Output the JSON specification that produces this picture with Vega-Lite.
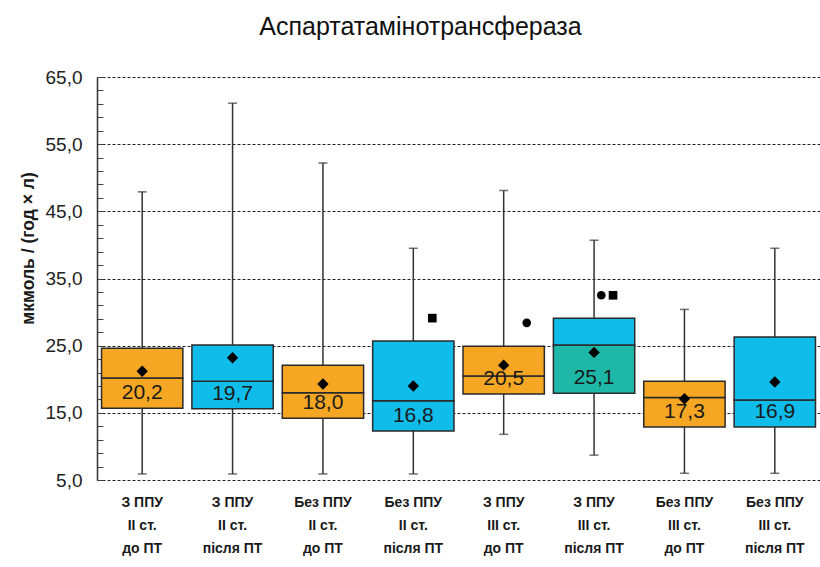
{
  "$schema": "https://vega.github.io/schema/vega-lite/v6.json",
  "autosize": "none",
  "width": 723,
  "height": 403,
  "padding": {"left": 97, "top": 77, "right": 0, "bottom": 87},
  "background": "white",
  "config": {
    "view": {"stroke": null},
    "font": "Liberation Sans",
    "locale": {"number": {"decimal": ",", "thousands": " ", "grouping": [3], "currency": ["", ""]}}
  },
  "title": {
    "text": "Аспартатамінотрансфераза",
    "fontSize": 25,
    "fontWeight": "normal",
    "color": "#111",
    "anchor": "middle",
    "dx": -38,
    "offset": 28
  },
  "datasets": {
    "boxes": [
      {"group": "З ППУ|II ст.|до ПТ", "min": 5.9, "q1": 15.7, "median": 20.2, "q3": 24.6, "max": 47.9, "mean": 21.2, "upper": "до ПТ", "lower": "до ПТ"},
      {"group": "З ППУ|II ст.|після ПТ", "min": 5.9, "q1": 15.6, "median": 19.7, "q3": 25.1, "max": 61.1, "mean": 23.2, "upper": "після ПТ", "lower": "після ПТ"},
      {"group": "Без ППУ|II ст.|до ПТ", "min": 5.9, "q1": 14.2, "median": 18.0, "q3": 22.1, "max": 52.2, "mean": 19.3, "upper": "до ПТ", "lower": "до ПТ"},
      {"group": "Без ППУ|II ст.|після ПТ", "min": 5.9, "q1": 12.3, "median": 16.8, "q3": 25.7, "max": 39.5, "mean": 19.0, "upper": "після ПТ", "lower": "після ПТ"},
      {"group": "З ППУ|III ст.|до ПТ", "min": 11.8, "q1": 17.8, "median": 20.5, "q3": 24.9, "max": 48.1, "mean": 22.1, "upper": "до ПТ", "lower": "до ПТ"},
      {"group": "З ППУ|III ст.|після ПТ", "min": 8.7, "q1": 17.9, "median": 25.1, "q3": 29.1, "max": 40.7, "mean": 24.0, "upper": "після ПТ", "lower": "після ПТ (нижня)"},
      {"group": "Без ППУ|III ст.|до ПТ", "min": 6.0, "q1": 12.9, "median": 17.3, "q3": 19.7, "max": 30.4, "mean": 17.1, "upper": "до ПТ", "lower": "до ПТ"},
      {"group": "Без ППУ|III ст.|після ПТ", "min": 6.0, "q1": 12.9, "median": 16.9, "q3": 26.3, "max": 39.5, "mean": 19.6, "upper": "після ПТ", "lower": "після ПТ"}
    ],
    "outliers": [
      {"group": "Без ППУ|II ст.|після ПТ", "value": 29.1, "shape": "square"},
      {"group": "З ППУ|III ст.|до ПТ", "value": 28.4, "shape": "circle"},
      {"group": "З ППУ|III ст.|після ПТ", "value": 32.5, "shape": "circle"},
      {"group": "З ППУ|III ст.|після ПТ", "value": 32.5, "shape": "square"}
    ]
  },
  "data": {"name": "boxes"},
  "encoding": {
    "x": {
      "field": "group",
      "type": "nominal",
      "sort": null,
      "scale": {"paddingInner": 0, "paddingOuter": 0},
      "axis": {
        "title": null,
        "labelAngle": 0,
        "labelExpr": "split(datum.value, '|')",
        "labelFontWeight": "bold",
        "labelFontSize": 14,
        "labelLineHeight": 23,
        "labelColor": "#1a1a1a",
        "labelPadding": 15,
        "labelBaseline": "top",
        "ticks": false,
        "domain": false,
        "grid": false
      }
    }
  },
  "resolve": {"axis": {"y": "independent"}},
  "layer": [
    {
      "mark": {"type": "rule", "color": "#333", "strokeWidth": 1.5},
      "encoding": {
        "y": {
          "field": "min",
          "type": "quantitative",
          "scale": {"domain": [5, 65], "nice": false, "zero": false},
          "axis": {
            "orient": "left",
            "title": "мкмоль / (год × л)",
            "titleFontSize": 17.5,
            "titleFontWeight": "bold",
            "titleColor": "#1a1a1a",
            "titleX": -69,
            "titleY": 171,
            "titleBaseline": "middle",
            "titleAngle": -90,
            "values": [5, 7, 9, 11, 13, 15, 17, 19, 21, 23, 25, 27, 29, 31, 33, 35, 37, 39, 41, 43, 45, 47, 49, 51, 53, 55, 57, 59, 61, 63, 65],
            "format": ".1f",
            "labelExpr": "indexof(['5,0','15,0','25,0','35,0','45,0','55,0','65,0'], datum.label) >= 0 ? datum.label : ''",
            "labelFontSize": 19,
            "labelColor": "#222",
            "labelPadding": 21,
            "labelOverlap": false,
            "ticks": true,
            "tickSize": -6,
            "tickColor": "#444",
            "tickWidth": 1,
            "domainColor": "#333",
            "domainWidth": 1.5,
            "grid": false
          }
        },
        "y2": {"field": "max"}
      }
    },
    {
      "mark": {"type": "tick", "color": "#333", "size": 9, "thickness": 1.5},
      "encoding": {
        "y": {
          "field": "min",
          "type": "quantitative",
          "axis": {
            "orient": "right",
            "title": null,
            "values": [5, 15, 25, 35, 45, 55, 65],
            "labels": false,
            "domain": false,
            "ticks": false,
            "grid": true,
            "gridColor": "#222",
            "gridDash": [3, 2],
            "gridWidth": 1
          }
        }
      }
    },
    {
      "mark": {"type": "tick", "color": "#333", "size": 9, "thickness": 1.5},
      "encoding": {"y": {"field": "max", "type": "quantitative", "axis": null}}
    },
    {
      "mark": {"type": "bar", "width": {"band": 0.9}, "stroke": "#2a2a2a", "strokeWidth": 1.5},
      "encoding": {
        "y": {"field": "q1", "type": "quantitative", "axis": null},
        "y2": {"field": "median"},
        "fill": {
          "field": "lower",
          "type": "nominal",
          "scale": {"domain": ["до ПТ", "після ПТ", "після ПТ (нижня)"], "range": ["#F5A623", "#10BCEA", "#1FB8A8"]},
          "legend": null
        }
      }
    },
    {
      "mark": {"type": "bar", "width": {"band": 0.9}, "stroke": "#2a2a2a", "strokeWidth": 1.5},
      "encoding": {
        "y": {"field": "median", "type": "quantitative", "axis": null},
        "y2": {"field": "q3"},
        "fill": {"field": "upper", "type": "nominal", "legend": null}
      }
    },
    {
      "mark": {"type": "text", "fontSize": 21, "color": "#1a1a1a", "baseline": "middle", "dy": -15},
      "encoding": {
        "y": {"field": "q1", "type": "quantitative", "axis": null},
        "text": {"field": "median", "type": "quantitative", "format": ".1f"}
      }
    },
    {
      "mark": {"type": "point", "shape": "diamond", "filled": true, "color": "#000", "size": 130, "opacity": 1},
      "encoding": {"y": {"field": "mean", "type": "quantitative", "axis": null}}
    },
    {
      "data": {"name": "outliers"},
      "transform": [{"filter": "datum.shape == 'square'"}],
      "mark": {"type": "point", "shape": "square", "filled": true, "color": "#000", "opacity": 1, "size": 75},
      "encoding": {
        "x": {"field": "group", "type": "nominal", "sort": null, "bandPosition": 0.71},
        "y": {"field": "value", "type": "quantitative", "axis": null}
      }
    },
    {
      "data": {"name": "outliers"},
      "transform": [{"filter": "datum.shape == 'circle' && datum.group == 'З ППУ|III ст.|до ПТ'"}],
      "mark": {"type": "point", "shape": "circle", "filled": true, "color": "#000", "opacity": 1, "size": 75},
      "encoding": {
        "x": {"field": "group", "type": "nominal", "sort": null, "bandPosition": 0.755},
        "y": {"field": "value", "type": "quantitative", "axis": null}
      }
    },
    {
      "data": {"name": "outliers"},
      "transform": [{"filter": "datum.shape == 'circle' && datum.group == 'З ППУ|III ст.|після ПТ'"}],
      "mark": {"type": "point", "shape": "circle", "filled": true, "color": "#000", "opacity": 1, "size": 75},
      "encoding": {
        "x": {"field": "group", "type": "nominal", "sort": null, "bandPosition": 0.58},
        "y": {"field": "value", "type": "quantitative", "axis": null}
      }
    }
  ]
}
